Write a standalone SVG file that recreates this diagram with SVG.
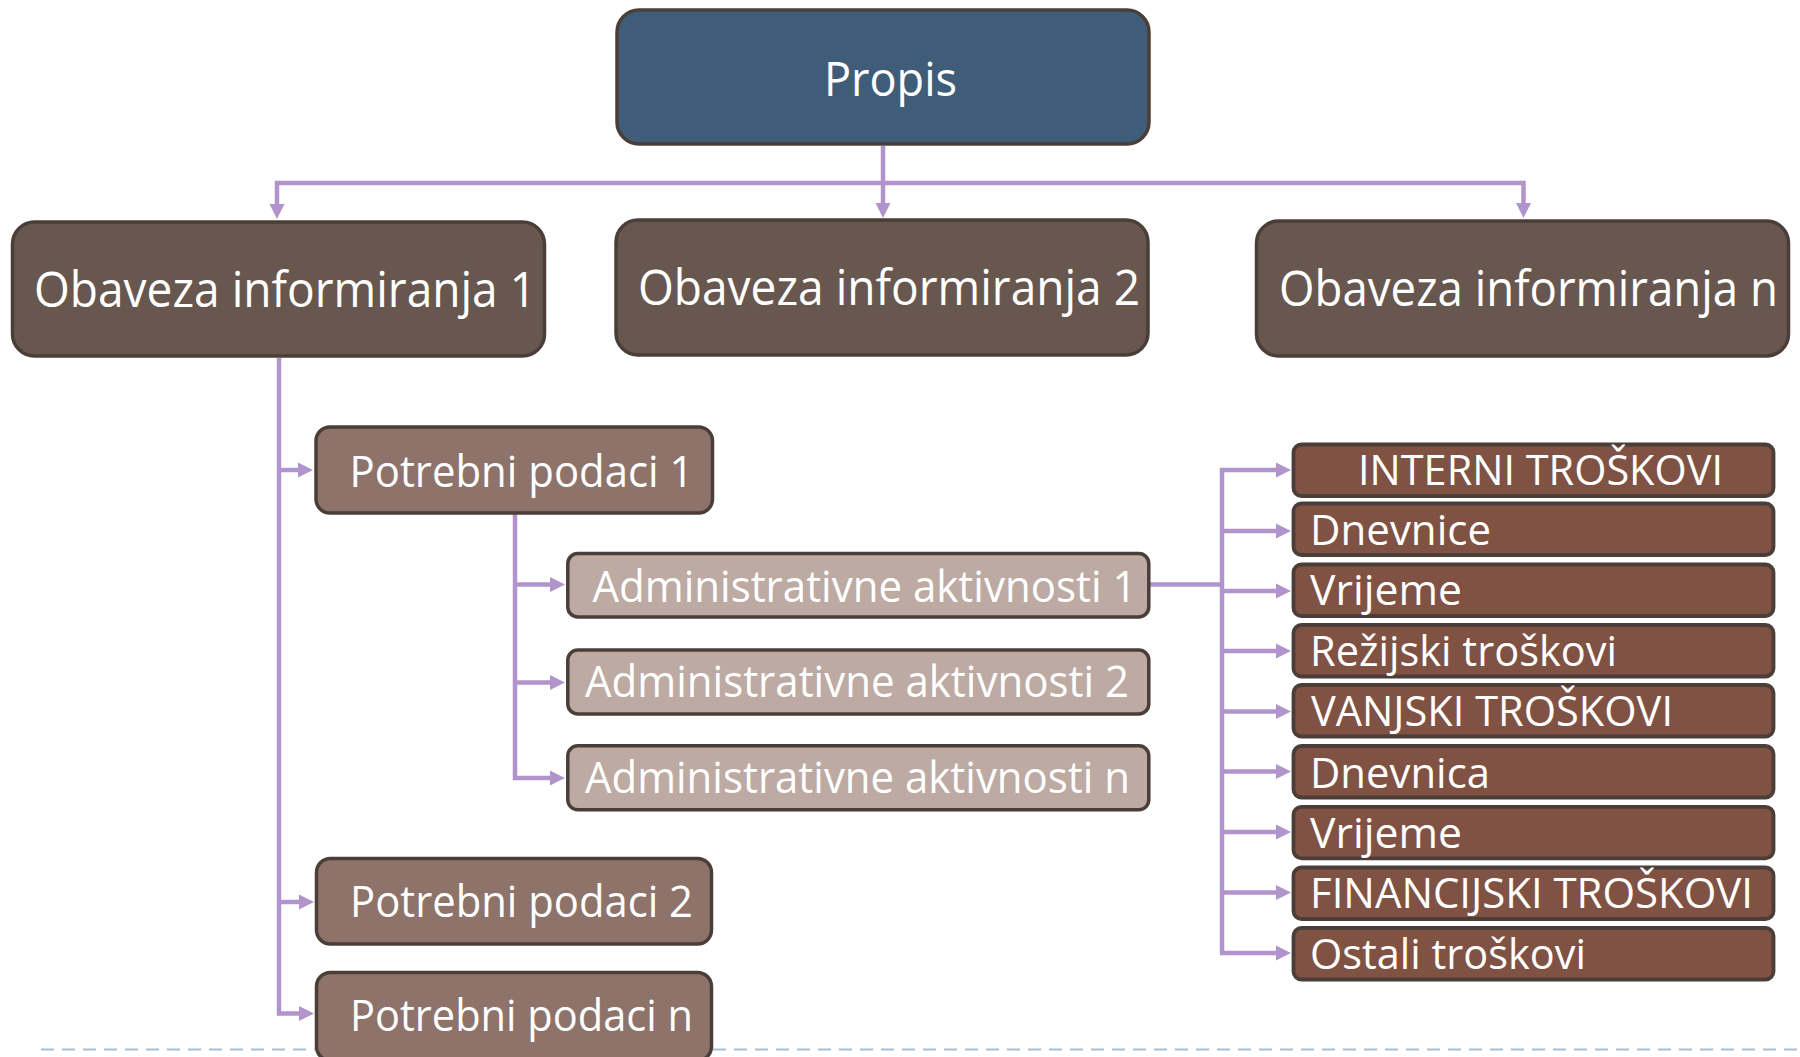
<svg xmlns="http://www.w3.org/2000/svg" width="1800" height="1057" viewBox="0 0 1800 1057">
  <defs>
    <marker id="arr" markerUnits="userSpaceOnUse" markerWidth="16" markerHeight="16" refX="1" refY="8" orient="auto" viewBox="0 0 16 16">
      <path d="M0,0.5 L15,8 L0,15.5 z" fill="#b294cc"/>
    </marker>
    <style>
      .box { stroke: #4b3e38; stroke-width: 3.5; }
      .propis { fill: #3f5d79; }
      .oi { fill: #68574f; }
      .pp { fill: #8d736a; }
      .aa { fill: #bcaaa3; }
      .tr { fill: #805243; stroke-width: 3.8; }
      .t { font-family: "Open Sans", "Liberation Sans", sans-serif; fill: #ffffff; }
      .conn { fill: none; stroke: #b294cc; stroke-width: 4.5; stroke-linejoin: miter; }
      .arr { marker-end: url(#arr); }
    </style>
  </defs>
  <rect width="1800" height="1057" fill="#ffffff"/>
  <line x1="41" y1="1049.5" x2="1800" y2="1049.5" stroke="#a9bfcf" stroke-width="2" stroke-dasharray="13 8"/>

  <g id="connectors">
    <path class="conn arr" d="M883,146 V204"/>
    <path class="conn arr" d="M885,183 H277 V205"/>
    <path class="conn arr" d="M881,183 H1523.5 V204"/>
    <path class="conn arr" d="M279,358 V1013.5 H300"/>
    <path class="conn arr" d="M279,470 H299"/>
    <path class="conn arr" d="M279,902 H300"/>
    <path class="conn arr" d="M515,514 V778 H551"/>
    <path class="conn arr" d="M515,584.5 H551"/>
    <path class="conn arr" d="M515,682.5 H551"/>
    <path class="conn" d="M1150,584.5 H1222"/>
    <path class="conn arr" d="M1222,953 V470 H1277"/>
    <path class="conn arr" d="M1222,531 H1277"/>
    <path class="conn arr" d="M1222,591 H1277"/>
    <path class="conn arr" d="M1222,651 H1277"/>
    <path class="conn arr" d="M1222,711.5 H1277"/>
    <path class="conn arr" d="M1222,771.5 H1277"/>
    <path class="conn arr" d="M1222,832 H1277"/>
    <path class="conn arr" d="M1222,892.5 H1277"/>
    <path class="conn arr" d="M1220,953 H1277"/>
  </g>

  <g id="propis">
    <rect class="box propis" x="617" y="10" width="532" height="134" rx="22"/>
    <text class="t" x="824" y="96" font-size="48" textLength="133" lengthAdjust="spacingAndGlyphs">Propis</text>
  </g>
  <g id="obaveza-1">
    <rect class="box oi" x="12.5" y="222" width="532" height="134" rx="22"/>
    <text class="t" x="34" y="307" font-size="49" textLength="502" lengthAdjust="spacingAndGlyphs">Obaveza informiranja 1</text>
  </g>
  <g id="obaveza-2">
    <rect class="box oi" x="616" y="220" width="532" height="135" rx="22"/>
    <text class="t" x="638" y="305" font-size="49" textLength="502" lengthAdjust="spacingAndGlyphs">Obaveza informiranja 2</text>
  </g>
  <g id="obaveza-n">
    <rect class="box oi" x="1256.5" y="221" width="532" height="135" rx="22"/>
    <text class="t" x="1279" y="306" font-size="48.5" textLength="499" lengthAdjust="spacingAndGlyphs">Obaveza informiranja n</text>
  </g>

  <g id="potrebni-1">
    <rect class="box pp" x="316" y="427" width="396.5" height="86" rx="14"/>
    <text class="t" x="349.5" y="487" font-size="43.5" textLength="344" lengthAdjust="spacingAndGlyphs">Potrebni podaci 1</text>
  </g>
  <g id="potrebni-2">
    <rect class="box pp" x="316.5" y="858.5" width="395" height="85.5" rx="14"/>
    <text class="t" x="350" y="917" font-size="43.5" textLength="343" lengthAdjust="spacingAndGlyphs">Potrebni podaci 2</text>
  </g>
  <g id="potrebni-n">
    <rect class="box pp" x="316.5" y="972.5" width="395" height="88" rx="14"/>
    <text class="t" x="350" y="1031" font-size="43.5" textLength="343" lengthAdjust="spacingAndGlyphs">Potrebni podaci n</text>
  </g>

  <g id="admin-1">
    <rect class="box aa" x="567.8" y="553.5" width="581" height="63.5" rx="10"/>
    <text class="t" x="592.5" y="602" font-size="44" textLength="544" lengthAdjust="spacingAndGlyphs">Administrativne aktivnosti 1</text>
  </g>
  <g id="admin-2">
    <rect class="box aa" x="567.8" y="650" width="581" height="64" rx="10"/>
    <text class="t" x="585" y="697" font-size="44" textLength="544" lengthAdjust="spacingAndGlyphs">Administrativne aktivnosti 2</text>
  </g>
  <g id="admin-n">
    <rect class="box aa" x="567.8" y="745.8" width="581" height="64" rx="10"/>
    <text class="t" x="585" y="793" font-size="44" textLength="545" lengthAdjust="spacingAndGlyphs">Administrativne aktivnosti n</text>
  </g>

  <g id="interni-troskovi">
    <rect class="box tr" x="1293.5" y="444.5" width="480" height="51.5" rx="8"/>
    <text class="t" x="1358" y="485" font-size="42" textLength="365" lengthAdjust="spacingAndGlyphs">INTERNI TROŠKOVI</text>
  </g>
  <g id="dnevnice">
    <rect class="box tr" x="1293.5" y="503.5" width="480" height="51.5" rx="8"/>
    <text class="t" x="1310" y="545" font-size="42" textLength="181" lengthAdjust="spacingAndGlyphs">Dnevnice</text>
  </g>
  <g id="vrijeme-1">
    <rect class="box tr" x="1293.5" y="564.5" width="480" height="51.5" rx="8"/>
    <text class="t" x="1310" y="605" font-size="42" textLength="152" lengthAdjust="spacingAndGlyphs">Vrijeme</text>
  </g>
  <g id="rezijski-troskovi">
    <rect class="box tr" x="1293.5" y="625" width="480" height="51.5" rx="8"/>
    <text class="t" x="1310" y="666" font-size="42" textLength="307" lengthAdjust="spacingAndGlyphs">Režijski troškovi</text>
  </g>
  <g id="vanjski-troskovi">
    <rect class="box tr" x="1293.5" y="685" width="480" height="51.5" rx="8"/>
    <text class="t" x="1311" y="726" font-size="42" textLength="362" lengthAdjust="spacingAndGlyphs">VANJSKI TROŠKOVI</text>
  </g>
  <g id="dnevnica">
    <rect class="box tr" x="1293.5" y="746" width="480" height="51.5" rx="8"/>
    <text class="t" x="1310" y="788" font-size="42" textLength="180" lengthAdjust="spacingAndGlyphs">Dnevnica</text>
  </g>
  <g id="vrijeme-2">
    <rect class="box tr" x="1293.5" y="806.8" width="480" height="51.5" rx="8"/>
    <text class="t" x="1310" y="848" font-size="42" textLength="152" lengthAdjust="spacingAndGlyphs">Vrijeme</text>
  </g>
  <g id="financijski-troskovi">
    <rect class="box tr" x="1293.5" y="867.5" width="480" height="51.5" rx="8"/>
    <text class="t" x="1310" y="908" font-size="42" textLength="443" lengthAdjust="spacingAndGlyphs">FINANCIJSKI TROŠKOVI</text>
  </g>
  <g id="ostali-troskovi">
    <rect class="box tr" x="1293.5" y="928" width="480" height="51.5" rx="8"/>
    <text class="t" x="1310" y="969" font-size="42" textLength="276" lengthAdjust="spacingAndGlyphs">Ostali troškovi</text>
  </g>
</svg>
